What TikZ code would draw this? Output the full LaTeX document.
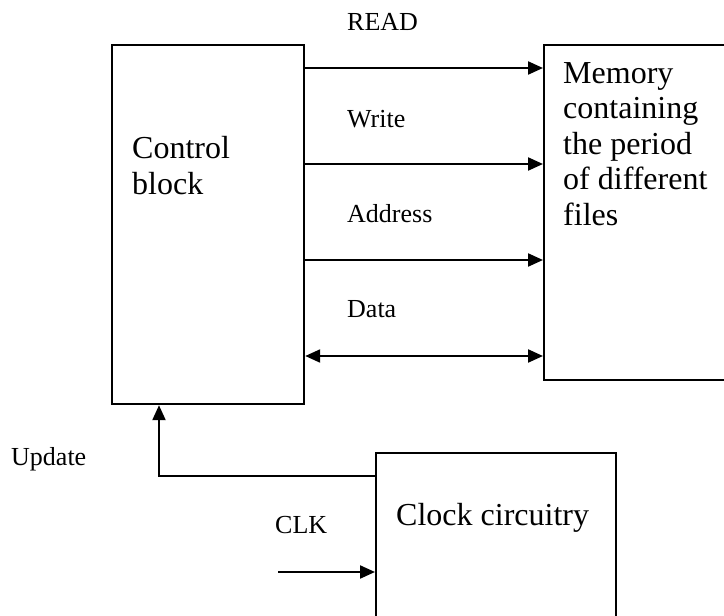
\documentclass[tikz,border=0pt]{standalone}
\usepackage{fontspec}
\setmainfont{Liberation Serif}
\usetikzlibrary{arrows.meta}
\tikzset{
  blk/.style={draw, line width=2.2pt, inner sep=0pt, anchor=north west},
  bigtxt/.style={font=\fontsize{32}{35.5}\selectfont, inner sep=0pt, align=left, anchor=base west},
  smalltxt/.style={font=\fontsize{26}{30}\selectfont, inner sep=0pt, anchor=base west},
  sig/.style={line width=2.2pt, -{Triangle[length=15pt,width=13pt]}},
  bus/.style={line width=2.2pt, {Triangle[length=15pt,width=13pt]}-{Triangle[length=15pt,width=13pt]}},
  link/.style={line width=2.2pt}
}
\begin{document}
\begin{tikzpicture}[x=1pt, y=-1pt]
\useasboundingbox (0,0) rectangle (724,616);
\clip (0,0) rectangle (724,616);
% blocks
\node[blk, minimum width=192pt, minimum height=359pt] (ctrl) at (111,44) {};
\node[blk, minimum width=240pt, minimum height=335pt] (mem) at (543,44) {};
\node[blk, minimum width=240pt, minimum height=220pt] (clk) at (375,452) {};
% block texts (anchored at the baseline of the last line)
\node[bigtxt] (ctrltxt) at (132,194) {Control\\block};
\node[bigtxt] (memtxt) at (563,225) {Memory\\containing\\the period\\of different\\files};
\node[bigtxt] (clktxt) at (396,525) {Clock circuitry};
% signal labels
\node[smalltxt] (lread) at (347,30) {READ};
\node[smalltxt] (lwrite) at (347,127) {Write};
\node[smalltxt] (laddr) at (347,222) {Address};
\node[smalltxt] (ldata) at (347,317) {Data};
\node[smalltxt] (lupd) at (11,465) {Update};
\node[smalltxt] (lclk) at (275,533) {CLK};
% bus levels
\coordinate (yread) at (0,68);
\coordinate (ywrite) at (0,164);
\coordinate (yaddr) at (0,260);
\coordinate (ydata) at (0,356);
\coordinate (yupd) at (0,476);
\coordinate (xupd) at (159,0);
\coordinate (clkin) at (278,572);
% connectors
\draw[sig] (ctrl.east |- yread) -- (mem.west |- yread);
\draw[sig] (ctrl.east |- ywrite) -- (mem.west |- ywrite);
\draw[sig] (ctrl.east |- yaddr) -- (mem.west |- yaddr);
\draw[bus] (ctrl.east |- ydata) -- (mem.west |- ydata);
\draw[sig] (clk.west |- yupd) -- (xupd |- yupd) -- (xupd |- ctrl.south);
\draw[sig] (clkin) -- (clk.west |- clkin);
\end{tikzpicture}
\end{document}
